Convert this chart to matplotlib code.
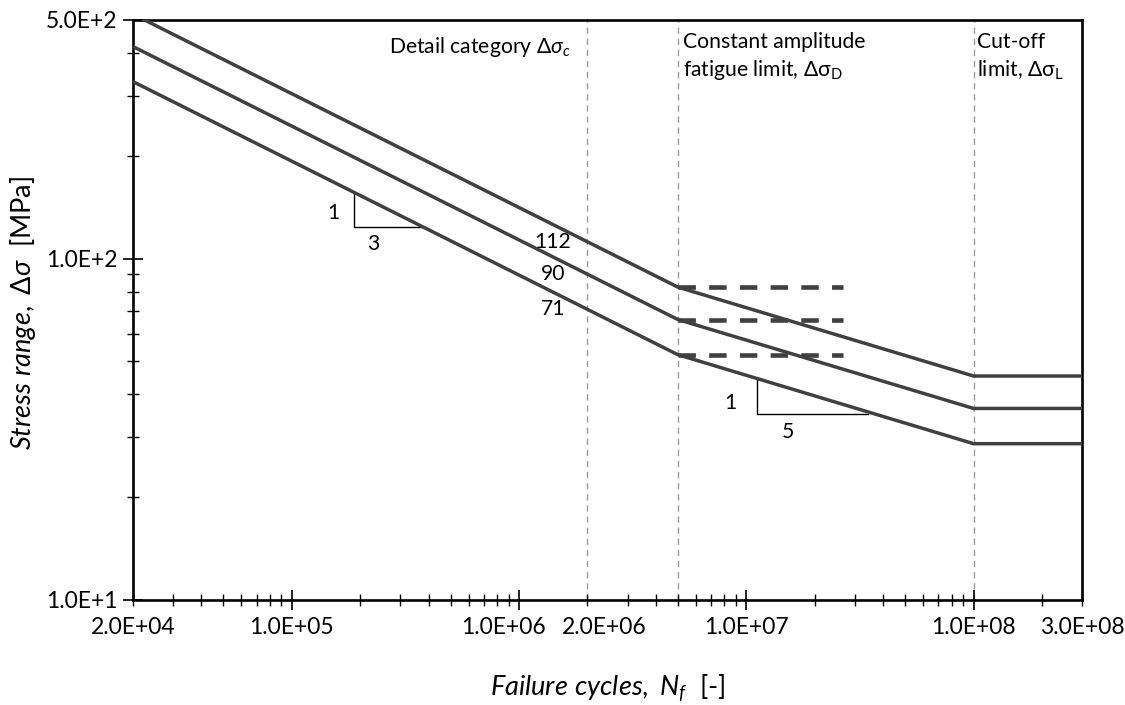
import matplotlib
matplotlib.use("Agg")
import matplotlib.pyplot as plt
from matplotlib.ticker import FixedLocator, FuncFormatter, NullFormatter
from matplotlib.transforms import ScaledTranslation

# ---------------- data ----------------
categories = ["112", "90", "71"]
n_breaks = [2e4, 2e6, 5e6, 1e8, 3e8]
stress_112 = [520, 112, 82.5, 45.3, 45.3]
stress_90 = [418, 90, 66.3, 36.4, 36.4]
stress_71 = [330, 71, 52.3, 28.7, 28.7]
fatigue_limits = [82.5, 66.3, 52.3]
fatigue_limit_n = [5e6, 2.66e7]
vertical_marks = [2e6, 5e6, 1e8]

slope3_n = [1.88e5, 1.88e5, 3.78e5]
slope3_s = [155.6, 123.8, 123.8]
slope5_n = [1.11e7, 1.11e7, 3.43e7]
slope5_s = [44.7, 35.06, 35.06]

x_major = [1e5, 1e6, 1e7, 1e8]
x_minor = [2e4, 3e4, 4e4, 5e4, 6e4, 7e4, 8e4, 9e4,
           2e5, 3e5, 4e5, 5e5, 6e5, 7e5, 8e5, 9e5,
           2e6, 3e6, 4e6, 5e6, 6e6, 7e6, 8e6, 9e6,
           2e7, 3e7, 4e7, 5e7, 6e7, 7e7, 8e7, 9e7,
           2e8, 3e8]
x_labels = {2e4: "2.0E+04", 1e5: "1.0E+05", 1e6: "1.0E+06", 2e6: "2.0E+06",
            1e7: "1.0E+07", 1e8: "1.0E+08", 3e8: "3.0E+08"}
y_major = [10, 100, 500]
y_minor = [20, 30, 40, 50, 60, 70, 80, 90, 200, 300, 400]
y_labels = {10: "1.0E+1", 100: "1.0E+2", 500: "5.0E+2"}

# ---------------- style ----------------
plt.rcParams['font.family'] = ['Lato', 'DejaVu Sans']
plt.rcParams['mathtext.fontset'] = 'custom'
plt.rcParams['mathtext.rm'] = 'Lato'
plt.rcParams['mathtext.it'] = 'Lato:italic'
plt.rcParams['mathtext.bf'] = 'Lato:bold'

curve_color = '#404040'

fig = plt.figure(figsize=(11.25, 7.05), dpi=100)
ax = fig.add_axes([133/1125, 1 - 600/705, (1082-133)/1125, (600-20)/705])
ax.set_xscale('log')
ax.set_yscale('log')
ax.set_xlim(2e4, 3e8)
ax.set_ylim(10, 500)

for vx in vertical_marks:
    ax.axvline(vx, color='#9a9a9a', lw=1.0, dashes=(4.5, 3.5), zorder=1)

for s in (stress_112, stress_90, stress_71):
    ax.plot(n_breaks, s, color=curve_color, lw=2.5, solid_capstyle='butt',
            solid_joinstyle='miter', zorder=3)

for fl in fatigue_limits:
    ax.plot(fatigue_limit_n, [fl, fl], color=curve_color, lw=3.3,
            dashes=(3.8, 2.9), dash_capstyle='butt', zorder=3)

ax.plot(slope3_n, slope3_s, color='black', lw=1.0, zorder=2)
ax.plot(slope5_n, slope5_s, color='black', lw=1.0, zorder=2)

fs_ann = 15.2
ax.text(1.53e5, 136, "1", fontsize=fs_ann, ha='center', va='center')
ax.text(2.27e5, 110.4, "3", fontsize=fs_ann, ha='center', va='center')
ax.text(8.55e6, 37.8, "1", fontsize=fs_ann, ha='center', va='center')
ax.text(1.52e7, 31.0, "5", fontsize=fs_ann, ha='center', va='center')

for cat in categories:
    ax.text(1.41e6, float(cat), cat, fontsize=fs_ann, ha='center', va='center')

ax.text((570-133)/949, (600-47)/580, r"Detail category $\mathit{\Delta\sigma_c}$",
        transform=ax.transAxes, fontsize=fs_ann, ha='right', va='center')
ax.text((683-133)/949, (600-57)/580,
        "Constant amplitude\nfatigue limit, $\\mathrm{\\Delta\\sigma_D}$",
        transform=ax.transAxes, fontsize=fs_ann, ha='left', va='center',
        linespacing=1.35)
ax.text((977-133)/949, (600-57)/580,
        "Cut-off\nlimit, $\\mathrm{\\Delta\\sigma_L}$",
        transform=ax.transAxes, fontsize=fs_ann, ha='left', va='center',
        linespacing=1.35)

# ticks
ax.xaxis.set_major_locator(FixedLocator(x_major))
ax.xaxis.set_minor_locator(FixedLocator(x_minor))
ax.xaxis.set_major_formatter(FuncFormatter(lambda v, p: x_labels.get(v, "")))
ax.xaxis.set_minor_formatter(FuncFormatter(lambda v, p: x_labels.get(v, "")))
ax.yaxis.set_major_locator(FixedLocator(y_major))
ax.yaxis.set_minor_locator(FixedLocator(y_minor))
ax.yaxis.set_major_formatter(FuncFormatter(lambda v, p: y_labels.get(v, "")))
ax.yaxis.set_minor_formatter(NullFormatter())

tick_fs = 16.5
ax.tick_params(which='major', direction='inout', length=14, width=1.2,
               labelsize=tick_fs, color='black')
ax.tick_params(which='minor', direction='inout', length=8, width=1.0,
               labelsize=tick_fs, color='black')
ax.tick_params(axis='x', which='major', pad=5)
ax.tick_params(axis='x', which='minor', pad=8)
ax.tick_params(axis='y', which='major', pad=4)

for sp in ax.spines.values():
    sp.set_linewidth(1.9)
    sp.set_color('black')

fig.text(608/1125, 1 - 688/705,
         r"$\mathit{Failure\ cycles,\ N_f}$  [-]", fontsize=19.5,
         ha='center', va='center')
fig.text(23/1125, 1 - 313/705,
         r"$\mathit{Stress\ range,\ \Delta\sigma}$  [MPa]", fontsize=19.5,
         ha='center', va='center', rotation=90)

# nudge the crowded 1.0E+06 / 2.0E+06 labels apart, as in the reference
fig.canvas.draw()
for tick in ax.xaxis.get_major_ticks():
    if tick.get_loc() == 1e6:
        tick.label1.set_transform(tick.label1.get_transform() +
                                  ScaledTranslation(-16/100, 0, fig.dpi_scale_trans))
for tick in ax.xaxis.get_minor_ticks():
    if tick.get_loc() == 2e6:
        tick.label1.set_transform(tick.label1.get_transform() +
                                  ScaledTranslation(17/100, 0, fig.dpi_scale_trans))

fig.savefig("out.png", dpi=100)
